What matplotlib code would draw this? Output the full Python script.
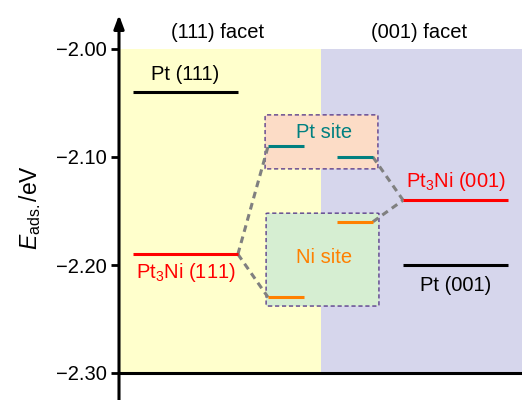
import matplotlib
matplotlib.use("Agg")
import matplotlib.pyplot as plt
from matplotlib.patches import FancyBboxPatch

plt.rcParams['font.family'] = ['Liberation Sans', 'DejaVu Sans']
plt.rcParams['mathtext.fontset'] = 'custom'
plt.rcParams['mathtext.rm'] = 'Liberation Sans'
plt.rcParams['mathtext.it'] = 'Liberation Sans:italic'

# adsorption energies (eV)
facets = ["(111) facet", "(001) facet"]
pt_pure = [-2.04, -2.20]
pt3ni = [-2.19, -2.14]
pt_site = [-2.09, -2.10]
ni_site = [-2.23, -2.16]
yticks = [-2.00, -2.10, -2.20, -2.30]

fig = plt.figure(figsize=(5.22, 4.0), dpi=100)
ax = fig.add_axes([119 / 522, 0.0, 1 - 119 / 522, (400 - 15) / 400])
ax.set_xlim(0, 2)
ax.set_ylim(-2.30 - 27 / 1080, -2.00 + 34 / 1080)

ax.fill_between([0, 1], -2.30, -2.00, color='#ffffcc', lw=0)
ax.fill_between([1, 2], -2.30, -2.00, color='#d6d6ec', lw=0)
ax.axhline(-2.30, color='black', lw=2.2)

# boxes for site-resolved values
ax.add_patch(FancyBboxPatch((0.725, -2.111), 0.56, 0.05,
                            boxstyle='round,pad=0,rounding_size=0.01',
                            fc='#fcdcc6', ec='#5b3e8c', ls=(0, (3, 2)), lw=1.0,
                            mutation_aspect=0.05))
ax.add_patch(FancyBboxPatch((0.73, -2.238), 0.56, 0.086,
                            boxstyle='round,pad=0,rounding_size=0.01',
                            fc='#d6eed2', ec='#5b3e8c', ls=(0, (3, 2)), lw=1.0,
                            mutation_aspect=0.05))

# connectors
dash = dict(color='#808080', lw=2.2, ls=(0, (2.2, 1.6)))
ax.plot([0.59, 0.74], [pt3ni[0], pt_site[0]], **dash)
ax.plot([0.59, 0.74], [pt3ni[0], ni_site[0]], **dash)
ax.plot([1.26, 1.41], [pt_site[1], pt3ni[1]], **dash)
ax.plot([1.26, 1.41], [ni_site[1], pt3ni[1]], **dash)

# energy levels
ax.hlines(pt_pure, [0.07, 1.41], [0.59, 1.93], color='black', lw=2.2)
ax.hlines(pt3ni, [0.07, 1.41], [0.59, 1.93], color='#ff0000', lw=2.2)
ax.hlines(pt_site, [0.74, 1.08], [0.92, 1.26], color='#008080', lw=2.2)
ax.hlines(ni_site, [0.74, 1.08], [0.92, 1.26], color='#ff8000', lw=2.2)

fs = 14.5
ax.text(0.49, -1.985, facets[0], ha='center', va='center', fontsize=fs)
ax.text(1.49, -1.985, facets[1], ha='center', va='center', fontsize=fs)
ax.text(0.33, pt_pure[0] + 0.016, "Pt (111)", ha='center', va='center', fontsize=fs)
ax.text(0.33, pt3ni[0] - 0.017, "Pt$_3$Ni (111)", ha='center', va='center',
        fontsize=fs, color='#ff0000')
ax.text(1.67, pt3ni[1] + 0.017, "Pt$_3$Ni (001)", ha='center', va='center',
        fontsize=fs, color='#ff0000')
ax.text(1.67, pt_pure[1] - 0.019, "Pt (001)", ha='center', va='center', fontsize=fs)
ax.text(1.02, -2.077, "Pt site", ha='center', va='center', fontsize=fs, color='#008080')
ax.text(1.02, -2.193, "Ni site", ha='center', va='center', fontsize=fs, color='#ff8000')

for s in ['top', 'right', 'bottom', 'left']:
    ax.spines[s].set_visible(False)
ax.annotate('', xy=(0, 1.0), xycoords='axes fraction', xytext=(0, 0),
            arrowprops=dict(arrowstyle='-|>,head_length=0.8,head_width=0.3',
                            color='black', lw=2.2, shrinkA=0, shrinkB=0))
ax.set_xticks([])
ax.set_yticks(yticks)
ax.set_yticklabels([f"\u2212{abs(v):.2f}" for v in yticks], fontsize=fs)
ax.tick_params(axis='y', direction='out', length=6, width=2, pad=3)
ax.set_ylabel("$E_{\\mathrm{ads.}}$/eV", fontsize=16.5, labelpad=9)

fig.savefig("out.png", dpi=100)
